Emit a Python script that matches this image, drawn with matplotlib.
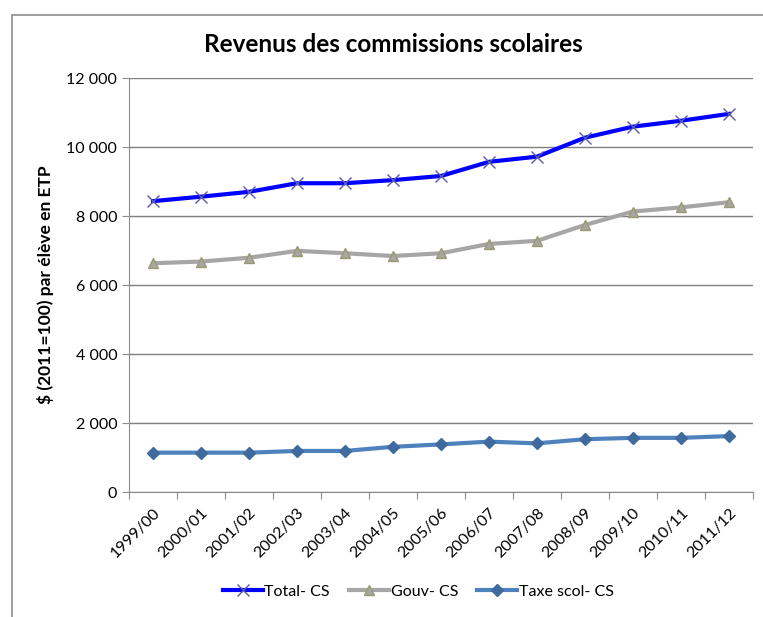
import numpy as np
import matplotlib
matplotlib.use('Agg')
import matplotlib.pyplot as plt
from matplotlib.patches import Rectangle

plt.rcParams['font.family'] = ['Lato', 'DejaVu Sans']

years = ['1999/00', '2000/01', '2001/02', '2002/03', '2003/04', '2004/05', '2005/06',
         '2006/07', '2007/08', '2008/09', '2009/10', '2010/11', '2011/12']
total_cs = [8430, 8560, 8700, 8950, 8950, 9040, 9160, 9570, 9720, 10270, 10590, 10760, 10960]
gouv_cs = [6630, 6680, 6790, 6990, 6920, 6840, 6920, 7190, 7280, 7740, 8130, 8250, 8400]
taxe_cs = [1140, 1140, 1140, 1190, 1190, 1310, 1380, 1460, 1410, 1530, 1570, 1570, 1620]

fig = plt.figure(figsize=(7.63, 6.17), dpi=100)
# chart frame (only top and left edges are visible in the crop)
fig.patches.append(Rectangle((12 / 763, -0.1), 1.2, 1 - 15 / 617 + 0.1, transform=fig.transFigure,
                             fill=False, edgecolor='#8c8c8c', linewidth=1.2))

ax = fig.add_axes([129 / 763, 1 - 492 / 617, (753 - 129) / 763, (492 - 78) / 617])
x = np.arange(len(years))

ax.plot(x, total_cs, color='#0000ff', lw=3, marker='x', ms=9, mew=1.0, mec='#5a5aa8', label='Total- CS')
ax.plot(x, gouv_cs, color='#a6a6a6', lw=3, marker='^', ms=7, mec='#9a9a70', label='Gouv- CS')
ax.plot(x, taxe_cs, color='#4f81bd', lw=3, marker='D', ms=6, mec='#3f6a9e', mfc='#3f6a9e', label='Taxe scol- CS')

ax.set_xlim(-0.5, len(years) - 0.5)
ax.set_ylim(0, 12000)
ax.set_yticks(range(0, 12001, 2000))
ax.set_yticklabels([f'{v:,}'.replace(',', ' ') for v in range(0, 12001, 2000)], fontsize=11.5)
ax.yaxis.grid(True, color='#7f7f7f', lw=1)
ax.set_axisbelow(True)

# ticks sit between categories, labels under the points
ax.set_xticks(np.arange(-0.5, len(years), 1))
ax.set_xticklabels([])
ax.set_xticks(x, minor=True)
ax.set_xticklabels(years, minor=True, rotation=45, ha='right', rotation_mode='anchor', fontsize=11.5)
ax.tick_params(axis='x', which='minor', length=0, pad=10)
ax.tick_params(axis='x', which='major', length=5, color='#8c8c8c')
ax.tick_params(axis='y', length=5, color='#8c8c8c')

for s in ['top', 'right']:
    ax.spines[s].set_visible(False)
for s in ['left', 'bottom']:
    ax.spines[s].set_color('#8c8c8c')

ax.set_ylabel('$ (2011=100) par élève en ETP', fontsize=12.5, fontweight='bold', labelpad=9)
fig.text(0.515, 1 - 44 / 617, 'Revenus des commissions scolaires', ha='center', va='center',
         fontsize=17.5, fontweight='bold')

fig.legend(loc='center', bbox_to_anchor=(0.548, 1 - 592 / 617), ncol=3, frameon=False,
           fontsize=11.5, handlelength=2.5, columnspacing=1.2, handletextpad=0.1)

fig.savefig('out.png', dpi=100)
